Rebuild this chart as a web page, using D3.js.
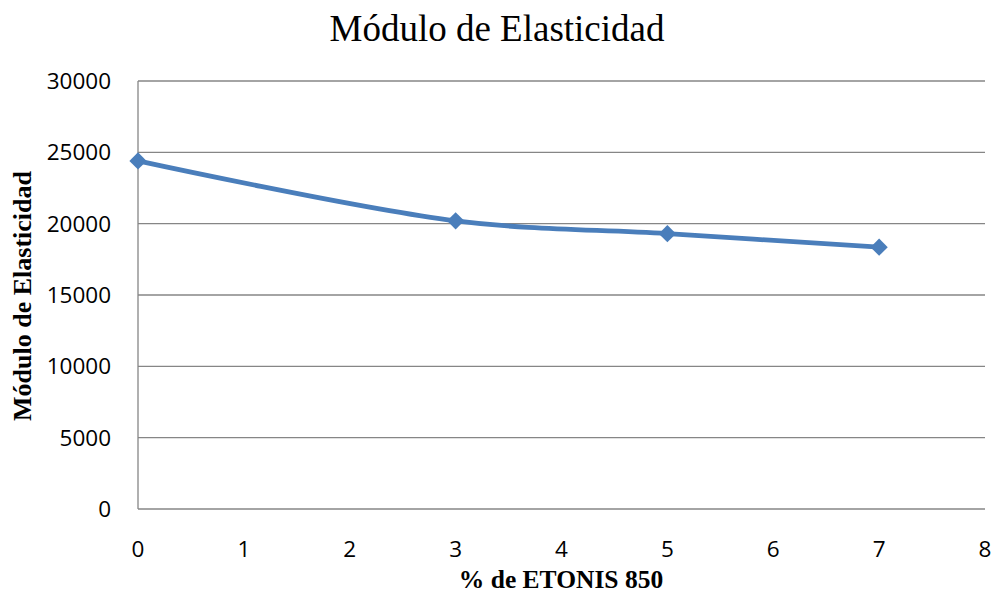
<!DOCTYPE html>
<html>
<head>
<meta charset="utf-8">
<script src="https://cdn.jsdelivr.net/npm/d3@7"></script>
<style>
  body { margin: 0; background: #fff; }
  svg text { fill: #000; }
</style>
</head>
<body>
<svg width="994" height="595"></svg>
<script>
var chartTitle = "Módulo de Elasticidad";
var xTitle = "% de ETONIS 850";
var yTitle = "Módulo de Elasticidad";
var xValues = [0, 3, 5, 7];
var yValues = [24400, 20200, 19300, 18350];
var xTicks = [0, 1, 2, 3, 4, 5, 6, 7, 8];
var yTicks = [0, 5000, 10000, 15000, 20000, 25000, 30000];

var svg = d3.select("svg");
var margin = {left: 138, right: 9, top: 81, bottom: 86};
var W = 994, H = 595;

var x = d3.scaleLinear().domain([0, 8]).range([margin.left, W - margin.right]);
var y = d3.scaleLinear().domain([0, 30000]).range([H - margin.bottom, margin.top]);

// gridlines
svg.append("g").selectAll("line")
  .data(yTicks.slice(1))
  .enter().append("line")
  .attr("x1", x(0)).attr("x2", x(8))
  .attr("y1", function(d) { return y(d); })
  .attr("y2", function(d) { return y(d); })
  .attr("stroke", "#868686").attr("stroke-width", 1.3);

// axes lines
svg.append("line")
  .attr("x1", x(0)).attr("x2", x(8)).attr("y1", y(0)).attr("y2", y(0))
  .attr("stroke", "#868686").attr("stroke-width", 1.3);
svg.append("line")
  .attr("x1", x(0)).attr("x2", x(0)).attr("y1", y(0)).attr("y2", y(30000))
  .attr("stroke", "#868686").attr("stroke-width", 1.3);

// tick labels
svg.append("g").selectAll("text")
  .data(yTicks).enter().append("text")
  .attr("x", 111)
  .attr("y", function(d) { return y(d) + 8; })
  .attr("text-anchor", "end")
  .style("font-family", "'Open Sans', sans-serif")
  .style("font-size", "22.5px")
  .text(function(d) { return d; });

svg.append("g").selectAll("text")
  .data(xTicks).enter().append("text")
  .attr("x", function(d) { return x(d); })
  .attr("y", 557)
  .attr("text-anchor", "middle")
  .style("font-family", "'Open Sans', sans-serif")
  .style("font-size", "22.5px")
  .text(function(d) { return d; });

// titles
svg.append("text")
  .attr("x", 497).attr("y", 41)
  .attr("text-anchor", "middle")
  .style("font-family", "'Liberation Serif', 'Times New Roman', serif")
  .style("font-size", "37px")
  .text(chartTitle);

svg.append("text")
  .attr("x", 561).attr("y", 588)
  .attr("text-anchor", "middle")
  .style("font-family", "'Liberation Serif', 'Times New Roman', serif")
  .style("font-size", "25.5px")
  .style("font-weight", "bold")
  .text(xTitle);

svg.append("text")
  .attr("transform", "translate(31,296) rotate(-90)")
  .attr("text-anchor", "middle")
  .style("font-family", "'Liberation Serif', 'Times New Roman', serif")
  .style("font-size", "26px")
  .style("font-weight", "bold")
  .text(yTitle);

// series
var pts = xValues.map(function(d, i) { return [d, yValues[i]]; });
var line = d3.line()
  .x(function(d) { return x(d[0]); })
  .y(function(d) { return y(d[1]); })
  .curve(d3.curveCatmullRom.alpha(0.5));

svg.append("path")
  .datum(pts)
  .attr("d", line)
  .attr("fill", "none")
  .attr("stroke", "#4a7ebb")
  .attr("stroke-width", 4.8)
  .attr("stroke-linejoin", "round");

svg.append("g").selectAll("path")
  .data(pts).enter().append("path")
  .attr("d", d3.symbol().type(d3.symbolDiamond2).size(190))
  .attr("transform", function(d) { return "translate(" + x(d[0]) + "," + y(d[1]) + ")"; })
  .attr("fill", "#4a7ebb");
</script>
</body>
</html>
